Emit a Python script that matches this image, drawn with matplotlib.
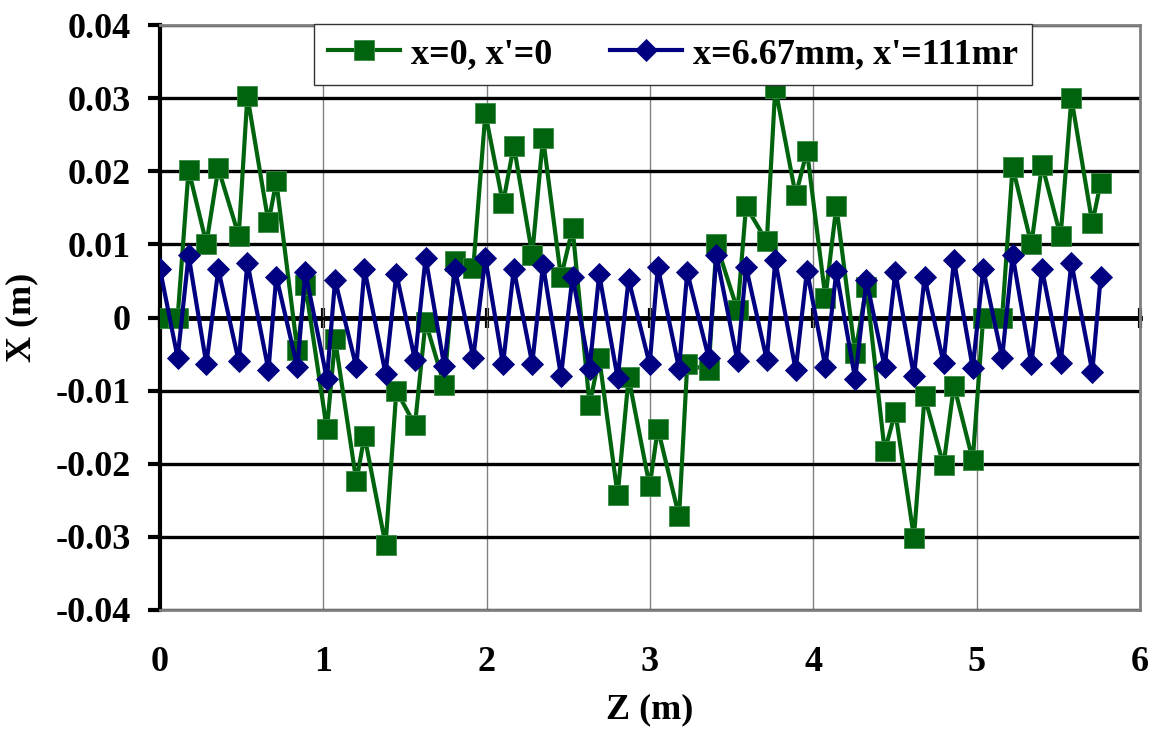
import matplotlib.pyplot as plt
from matplotlib.ticker import FuncFormatter

# Z positions (m), shared by both tracks
z = [0.000, 0.108, 0.175, 0.284, 0.357, 0.482, 0.535, 0.664, 0.712, 0.841,
     0.890, 1.022, 1.072, 1.202, 1.252, 1.381, 1.447, 1.561, 1.626, 1.740,
     1.806, 1.918, 1.992, 2.100, 2.166, 2.279, 2.345, 2.455, 2.526, 2.630,
     2.689, 2.802, 2.869, 2.998, 3.048, 3.178, 3.228, 3.359, 3.407, 3.536,
     3.588, 3.715, 3.767, 3.892, 3.961, 4.074, 4.141, 4.256, 4.325, 4.437,
     4.502, 4.616, 4.681, 4.797, 4.861, 4.976, 5.040, 5.156, 5.220, 5.335,
     5.400, 5.514, 5.580, 5.708, 5.759]

# x=0, x'=0
x_green = [0.0, 0.0, 0.0202, 0.0101, 0.0204, 0.0112, 0.0303, 0.0130, 0.0186, -0.0045,
           0.0044, -0.0153, -0.0030, -0.0224, -0.0162, -0.0311, -0.0100, -0.0147, -0.0006, -0.0092,
           0.0077, 0.0068, 0.0279, 0.0156, 0.0235, 0.0086, 0.0246, 0.0055, 0.0122, -0.0119,
           -0.0055, -0.0243, -0.0082, -0.0231, -0.0152, -0.0272, -0.0064, -0.0072, 0.0100, 0.0010,
           0.0152, 0.0104, 0.0314, 0.0167, 0.0228, 0.0027, 0.0152, -0.0049, 0.0042, -0.0183,
           -0.0129, -0.0301, -0.0108, -0.0202, -0.0093, -0.0195, 0.0, 0.0, 0.0206, 0.0100,
           0.0209, 0.0111, 0.0300, 0.0129, 0.0184]

# x=6.67mm, x'=111mr
x_blue = [0.0066, -0.0055, 0.0085, -0.0064, 0.0066, -0.0060, 0.0075, -0.0072, 0.0056, -0.0068,
          0.0062, -0.0084, 0.0051, -0.0068, 0.0066, -0.0077, 0.0060, -0.0058, 0.0082, -0.0066,
          0.0066, -0.0055, 0.0081, -0.0064, 0.0066, -0.0063, 0.0072, -0.0080, 0.0056, -0.0070,
          0.0059, -0.0083, 0.0052, -0.0064, 0.0069, -0.0070, 0.0062, -0.0055, 0.0085, -0.0060,
          0.0069, -0.0058, 0.0078, -0.0072, 0.0064, -0.0068, 0.0063, -0.0084, 0.0051, -0.0068,
          0.0062, -0.0080, 0.0055, -0.0062, 0.0078, -0.0069, 0.0066, -0.0055, 0.0085, -0.0064,
          0.0066, -0.0062, 0.0075, -0.0074, 0.0055]

labels = ["x=0, x'=0", "x=6.67mm, x'=111mr"]
x_ticks = [0, 1, 2, 3, 4, 5, 6]
y_ticks = [-0.04, -0.03, -0.02, -0.01, 0, 0.01, 0.02, 0.03, 0.04]

plt.rcParams['font.family'] = ['Liberation Serif', 'DejaVu Serif']
plt.rcParams['font.weight'] = 'bold'
fs = 26

fig = plt.figure(figsize=(11.61, 7.33), dpi=100)
fig.subplots_adjust(left=160 / 1161, right=1140 / 1161, bottom=1 - 610 / 733, top=1 - 25 / 733)
ax = fig.add_subplot(111)

ax.plot(z, x_green, color='#00640f', lw=3, marker='s', ms=14.5, mew=0.6, mec='#3c8a45',
        label=labels[0], zorder=4)
ax.plot(z, x_blue, color='#000080', lw=3, marker='D', ms=11.5, mew=0.6, mec='#000080',
        label=labels[1], zorder=5)

ax.set_xlim(0, 6)
ax.set_ylim(-0.04, 0.04)
ax.set_xticks(x_ticks)
ax.set_yticks(y_ticks)
ax.yaxis.set_major_formatter(FuncFormatter(lambda v, p: '0' if abs(v) < 1e-9 else '%.2f' % v))

# grid: black horizontals, thin gray verticals
ax.yaxis.grid(True, color='black', lw=2.4)
ax.xaxis.grid(True, color='#808080', lw=1)
ax.set_axisbelow(True)

for s in ['top', 'right', 'bottom']:
    ax.spines[s].set_color('#808080')
    ax.spines[s].set_linewidth(2)
ax.spines['left'].set_color('black')
ax.spines['left'].set_linewidth(3)

ax.tick_params(axis='y', direction='out', length=9, width=3, labelsize=fs, pad=12)
ax.tick_params(axis='x', length=0, labelsize=fs, pad=26)

# x axis line through zero
sec = ax.secondary_xaxis(0, transform=ax.transData)
sec.set_xticks(x_ticks)
sec.spines['bottom'].set_linewidth(3.5)
sec.spines['bottom'].set_color('black')
sec.tick_params(axis='x', direction='inout', length=14, width=3, labelbottom=False)

ax.set_xlabel('Z (m)', fontsize=fs, fontweight='bold', labelpad=10)
ax.set_ylabel('X (m)', fontsize=fs, fontweight='bold', labelpad=12)

leg = ax.legend(loc='upper center', bbox_to_anchor=(0.5235, 1.002), borderaxespad=0,
                ncol=2, fontsize=fs, frameon=True, fancybox=False, framealpha=1,
                edgecolor='#333333', handlelength=2.0, columnspacing=1.6,
                borderpad=0.38, handletextpad=0.3)
leg.get_frame().set_linewidth(1)
leg.set_zorder(10)

fig.savefig('out.png', dpi=100)
